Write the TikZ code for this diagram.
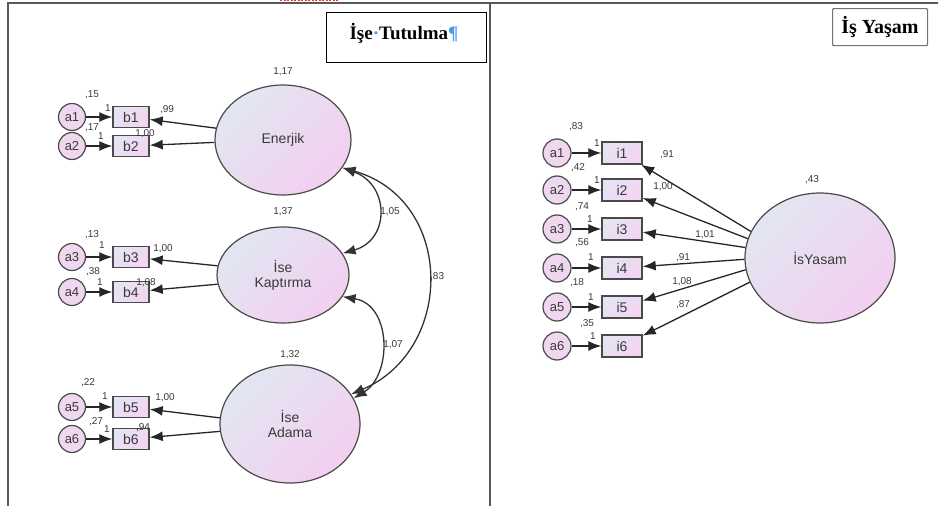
\documentclass[tikz,border=0pt]{standalone}
\usepackage{fontspec}
\setmainfont{Liberation Serif}
\newfontfamily\semsans{Liberation Sans}
\usetikzlibrary{shapes.geometric,arrows.meta}
\definecolor{latA}{HTML}{E2E6F1}
\definecolor{latB}{HTML}{F3CFF0}
\definecolor{obsA}{HTML}{E6E4F4}
\definecolor{obsB}{HTML}{F3D4F2}
\definecolor{errc}{HTML}{EFD7EF}
\definecolor{edge}{HTML}{4A4A4A}
\definecolor{txt}{HTML}{3A3A3A}
\definecolor{wordblue}{HTML}{4A9BE8}
\begin{document}
\begin{tikzpicture}[x=1pt,y=-1pt,
  lat/.style={ellipse, draw=edge, line width=1.2pt, top color=latA, bottom color=latB, shading angle=45, inner sep=0pt, align=center, text=txt, font=\semsans\fontsize{14}{15}\selectfont},
  obs/.style={rectangle, draw=edge, line width=1.4pt, top color=obsA, bottom color=obsB, shading angle=45, inner sep=0pt, text=txt, font=\semsans\fontsize{14}{14}\selectfont},
  err/.style={circle, draw=edge, line width=1.2pt, fill=errc, minimum size=27pt, inner sep=0pt, text=txt, font=\semsans\fontsize{13}{13}\selectfont},
  arr/.style={-{Latex[length=13pt,width=10pt]}, line width=1.3pt, draw=black!85},
  cov/.style={{Latex[length=13pt,width=10pt]}-{Latex[length=13pt,width=10pt]}, line width=1.3pt, draw=black!80},
  num/.style={inner sep=0pt, text=txt, font=\semsans\fontsize{10}{10}\selectfont},
  frame/.style={draw=black!65, line width=2pt}
]
\useasboundingbox (0,0) rectangle (938,506);
% frame
\draw[frame] (8,506) -- (8,3) -- (938,3);
\draw[frame] (490,3) -- (490,506);
\draw[red!85, line width=1.2pt, dash pattern=on 2pt off 1.5pt] (280,0.8) -- (338,0.8);
% titles
\node[draw=black, line width=1.2pt, minimum width=160pt, minimum height=50pt, anchor=north west] (t1box) at (326,12) {};
\node[font=\bfseries\fontsize{19}{19}\selectfont] (t1) at (404,33) {İşe\textcolor{wordblue}{·}Tutulma\textcolor{wordblue}{¶}};
\node[draw=black!55, line width=1.2pt, minimum width=95pt, minimum height=37pt, anchor=north west, rounded corners=1pt] (t2box) at (832,8) {};
\node[font=\bfseries\fontsize{20}{20}\selectfont] (t2) at (880,27) {İş Yaşam};

% left latent variables
\node[lat, minimum width=136pt, minimum height=110pt] (en) at (283,140) {Enerjik};
\node[lat, minimum width=132pt, minimum height=96pt] (kap) at (283,275) {İse\\Kaptırma};
\node[lat, minimum width=140pt, minimum height=118pt] (ada) at (290,424) {İse\\Adama};

% left observed
\foreach \n/\y in {1/117,2/146,3/257,4/292,5/407,6/439}{
  \node[err] (la\n) at (72,\y) {a\n};
  \node[obs, minimum width=36pt, minimum height=21pt] (lb\n) at (131,\y) {b\n};
  \draw[arr] (la\n) -- (lb\n);
}
\draw[arr] (en.170) -- (lb1);
\draw[arr] (en.182) -- (lb2);
\draw[arr] (kap.172) -- (lb3);
\draw[arr] (kap.188) -- (lb4);
\draw[arr] (ada.175) -- (lb5);
\draw[arr] (ada.186) -- (lb6);

% covariances
\draw[cov] (en.-25) .. controls (390,185) and (390,240) .. (kap.20);
\draw[cov] (kap.-20) .. controls (392,305) and (392,375) .. (ada.22);
\draw[cov] (en.-25) .. controls (455,200) and (455,350) .. (ada.26);
\node[num] (c1) at (390,212) {1,05};
\node[num] (c2) at (393,345) {1,07};
\node[num, anchor=west] (c3) at (430,277) {,83};

% left numbers
\node[num] at (283,72) {1,17};
\node[num] at (283,212) {1,37};
\node[num] at (290,355) {1,32};
\node[num] at (92,95) {,15};
\node[num] at (108,108) {1};
\node[num] at (92,128) {,17};
\node[num] at (101,136) {1};
\node[num] at (92,235) {,13};
\node[num] at (102,245) {1};
\node[num] at (93,272) {,38};
\node[num] at (100,282) {1};
\node[num] at (88,383) {,22};
\node[num] at (105,396) {1};
\node[num] at (96,422) {,27};
\node[num] at (107,429) {1};
\node[num] at (167,110) {,99};
\node[num] at (145,134) {1,00};
\node[num] at (163,249) {1,00};
\node[num] at (146,283) {1,08};
\node[num] at (165,398) {1,00};
\node[num] at (143,428) {,94};

% right panel
\node[lat, minimum width=150pt, minimum height=130pt] (iy) at (820,258) {İsYasam};
\node[num] at (812,180) {,43};
\foreach \n/\y in {1/153,2/190,3/229,4/268,5/307,6/346}{
  \node[err, minimum size=28pt] (ra\n) at (557,\y) {a\n};
  \node[obs, minimum width=40pt, minimum height=22pt] (ri\n) at (622,\y) {i\n};
  \draw[arr] (ra\n) -- (ri\n);
}
\draw[arr] (iy.159) -- (ri1);
\draw[arr] (iy.165) -- (ri2);
\draw[arr] (iy.172) -- (ri3);
\draw[arr] (iy.181) -- (ri4);
\draw[arr] (iy.189) -- (ri5);
\draw[arr] (iy.199) -- (ri6);

\node[num] at (576,127) {,83};
\node[num] at (597,143) {1};
\node[num] at (578,168) {,42};
\node[num] at (597,180) {1};
\node[num] at (582,207) {,74};
\node[num] at (590,219) {1};
\node[num] at (582,243) {,56};
\node[num] at (591,257) {1};
\node[num] at (577,283) {,18};
\node[num] at (591,297) {1};
\node[num] at (587,324) {,35};
\node[num] at (593,336) {1};
\node[num] at (667,155) {,91};
\node[num] at (663,187) {1,00};
\node[num] at (705,235) {1,01};
\node[num] at (683,258) {,91};
\node[num] at (682,282) {1,08};
\node[num] at (683,305) {,87};
\end{tikzpicture}
\end{document}
